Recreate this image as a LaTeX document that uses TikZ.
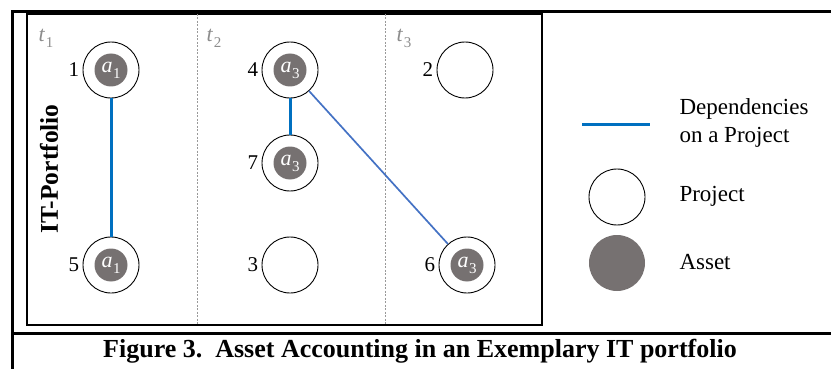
\documentclass[tikz,border=0pt]{standalone}
\usepackage{fontspec}
\setmainfont{Liberation Serif}
\definecolor{assetgray}{HTML}{767171}
\definecolor{depblue}{HTML}{0070C0}
\definecolor{diagblue}{HTML}{4472C4}
\definecolor{tgray}{HTML}{8C8C8C}
\definecolor{divgray}{HTML}{999999}
\newcommand{\msub}[2]{\textit{#1}\kern0.5pt\raisebox{-0.28em}{\fontsize{15}{15}\selectfont #2}}
\begin{document}
\begin{tikzpicture}[x=1pt,y=-1pt,
  proj/.style={circle,draw,line width=0.9pt,minimum size=56pt,inner sep=0pt,
    label distance=1pt},
  asset/.style={circle,fill=assetgray,minimum size=33pt,inner sep=0pt,text=white,
    font=\fontsize{22}{22}\selectfont},
  num/.style={font=\fontsize{21}{21}\selectfont},
  tlab/.style={text=tgray,font=\fontsize{22}{22}\selectfont},
  dep/.style={depblue,line width=3pt},
  depthin/.style={diagblue,line width=1.7pt},
  divider/.style={divgray,line width=0.7pt,dash pattern=on 2pt off 1.5pt},
  frame/.style={line width=3pt},
  legtext/.style={anchor=west,font=\fontsize{23}{28}\selectfont,align=left},
  ]
\useasboundingbox (0,0) rectangle (831,369);
% outer frame
\coordinate (tl) at (12,12);
\coordinate (tr) at (831,12);
\coordinate (bl) at (12,369);
\coordinate (sl) at (12,333);
\coordinate (sr) at (831,333);
\draw[frame] (tr) -- (tl) -- (bl);
\draw[frame] (sl) -- (sr);
% inner box
\draw[line width=1.2pt] (27,14) rectangle (542,325);
% dividers
\coordinate (d1t) at (197,14); \coordinate (d1b) at (197,325);
\coordinate (d2t) at (385,14); \coordinate (d2b) at (385,325);
\draw[divider] (d1t) -- (d1b);
\draw[divider] (d2t) -- (d2b);
% time labels
\node[tlab] (t1) at (46,38) {\msub{t}{1}};
\node[tlab] (t2) at (214,38) {\msub{t}{2}};
\node[tlab] (t3) at (404,38) {\msub{t}{3}};
% vertical title
\node[rotate=90,font=\fontsize{25.5}{25.5}\selectfont\bfseries] (itp) at (49,169) {IT-Portfolio};
% projects
\node[proj,label={[num]left:1}] (p1) at (111,70) {};
\node[proj,label={[num]left:5}] (p5) at (111,265) {};
\node[proj,label={[num]left:4}] (p4) at (290,70) {};
\node[proj,label={[num]left:7}] (p7) at (290,163) {};
\node[proj,label={[num]left:3}] (p3) at (290,265) {};
\node[proj,label={[num]left:2}] (p2) at (465,70) {};
\node[proj,label={[num]left:6}] (p6) at (467,265) {};
% assets
\node[asset] (a1) at (p1) {\msub{a}{1}};
\node[asset] (a5) at (p5) {\msub{a}{1}};
\node[asset] (a4) at (p4) {\msub{a}{3}};
\node[asset] (a7) at (p7) {\msub{a}{3}};
\node[asset] (a6) at (p6) {\msub{a}{3}};
% dependencies
\draw[dep] (p1.south) -- (p5.north);
\draw[dep] (p4.south) -- (p7.north);
\draw[depthin] (p4) -- (p6);
% legend
\coordinate (ll) at (582,125);
\coordinate (lr) at (650,125);
\draw[dep] (ll) -- (lr);
\node[legtext] (ldep) at (676,123) {Dependencies\\on a Project};
\node[proj] (lproj) at (617,197) {};
\node[legtext] (lprojt) at (676,196) {Project};
\node[circle,fill=assetgray,minimum size=56pt,inner sep=0pt] (lasset) at (617,263) {};
\node[legtext] (lassett) at (676,262) {Asset};
% caption
\node[font=\fontsize{26}{26}\selectfont\bfseries] (cap) at (420,351) {Figure 3.\ \ Asset Accounting in an Exemplary IT portfolio};
\end{tikzpicture}
\end{document}
